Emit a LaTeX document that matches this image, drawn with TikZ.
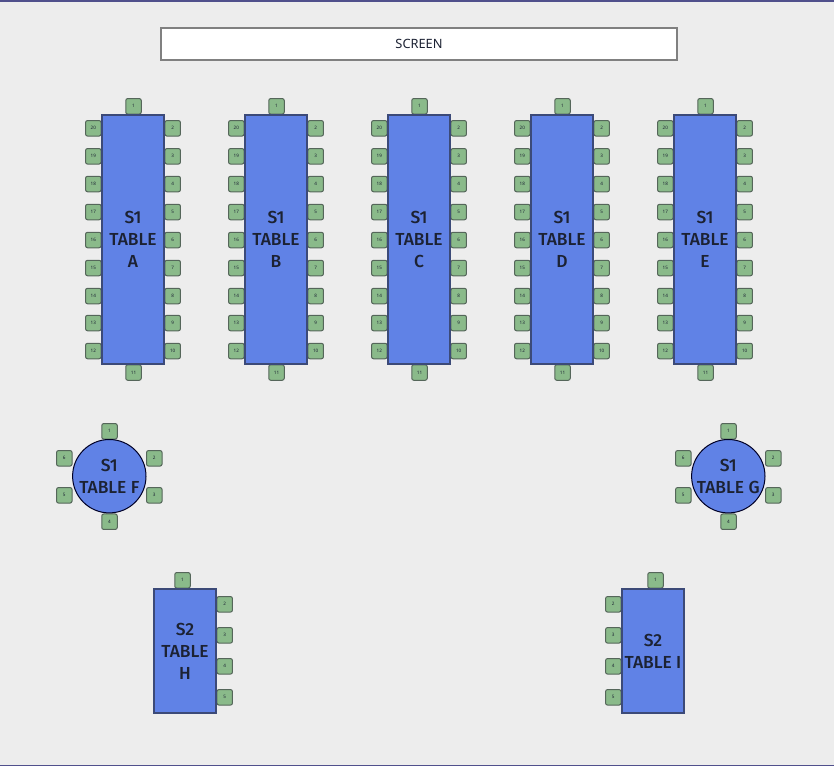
\documentclass[tikz,border=0pt]{standalone}
\usepackage{fontspec}
\setmainfont{Noto Sans}
\newfontfamily\labelfont{Fira Sans Medium}
\definecolor{bgc}{HTML}{EDEDED}
\definecolor{tablec}{HTML}{6082E6}
\definecolor{tableln}{HTML}{3C4A78}
\definecolor{seatc}{HTML}{8ABA8A}
\definecolor{seatln}{HTML}{55665A}
\definecolor{edgec}{HTML}{50508C}
\definecolor{screenln}{HTML}{808080}
\definecolor{inkc}{HTML}{1C2233}
\tikzset{
  seat/.style={draw=seatln,fill=seatc,line width=1pt,rounded corners=2pt,minimum size=15.5pt,inner sep=0pt,font=\fontsize{4.6}{5}\selectfont,text=inkc},
  tabletext/.style={align=center,font=\labelfont\fontsize{17.4}{22}\selectfont,text=inkc},
  longtable/.style={tabletext,draw=tableln,fill=tablec,line width=1.8pt,minimum width=61.6pt,minimum height=249.2pt,inner sep=0pt},
  shorttable/.style={tabletext,draw=tableln,fill=tablec,line width=1.8pt,minimum width=61.6pt,minimum height=123.8pt,inner sep=0pt},
  roundtable/.style={tabletext,circle,draw=black!85!blue,fill=tablec,line width=1pt,minimum size=73.4pt,inner sep=0pt},
  screenbox/.style={draw=screenln,fill=white,line width=2pt,minimum width=516pt,minimum height=32pt,inner sep=0pt,font=\fontsize{12.8}{14}\selectfont,text=inkc},
}
\begin{document}
\begin{tikzpicture}[x=1pt,y=-1pt]
\useasboundingbox (0,0) rectangle (834,766);
\fill[bgc] (0,0) rectangle (834,766);
\fill[edgec] (0,0) rectangle (834,2);
\fill[edgec] (0,765) rectangle (834,766);
\node[screenbox] (screen) at (419,44) {SCREEN};
% long tables
\foreach \n/\X/\L in {a/133/A,b/276/B,c/419/C,d/562/D,e/705/E}{
  \node[seat] (\n s1) at (\X+0.5,106.3) {1};
  \node[seat] (\n s11) at (\X+0.5,372.5) {11};
  \foreach \i/\Y in {2/128.3,3/156.3,4/184,5/212,6/240,7/268,8/296,9/323,10/351}{
    \node[seat] (\n s\i) at (\X+39.7,\Y) {\i};
  }
  \foreach \i/\Y in {20/128.3,19/156.3,18/184,17/212,16/240,15/268,14/296,13/323,12/351}{
    \node[seat] (\n s\i) at (\X-39.7,\Y) {\i};
  }
  \node[longtable] (table\n) at (\X,239.5) {S1\\TABLE\\\L};
}
% round tables
\foreach \n/\X/\L in {f/109.5/F,g/728.5/G}{
  \node[seat] (\n s1) at (\X,431.3) {1};
  \node[seat] (\n s2) at (\X+44.8,458.3) {2};
  \node[seat] (\n s3) at (\X+44.8,495.3) {3};
  \node[seat] (\n s4) at (\X,521.7) {4};
  \node[seat] (\n s5) at (\X-45.2,495.3) {5};
  \node[seat] (\n s6) at (\X-45.2,458.3) {6};
  \node[roundtable] (table\n) at (\X-0.2,476.2) {S1\\TABLE \L};
}
% short tables
\node[seat] (hs1) at (182.5,580.3) {1};
\node[seat] (is1) at (655.5,580.3) {1};
\foreach \i/\Y in {2/604.3,3/635.3,4/666.3,5/697.3}{
  \node[seat] (hs\i) at (224.7,\Y) {\i};
  \node[seat] (is\i) at (613.3,\Y) {\i};
}
\node[shorttable] (tableh) at (185,651) {S2\\TABLE\\H};
\node[shorttable] (tablei) at (653,651) {S2\\TABLE I};
\end{tikzpicture}
\end{document}
